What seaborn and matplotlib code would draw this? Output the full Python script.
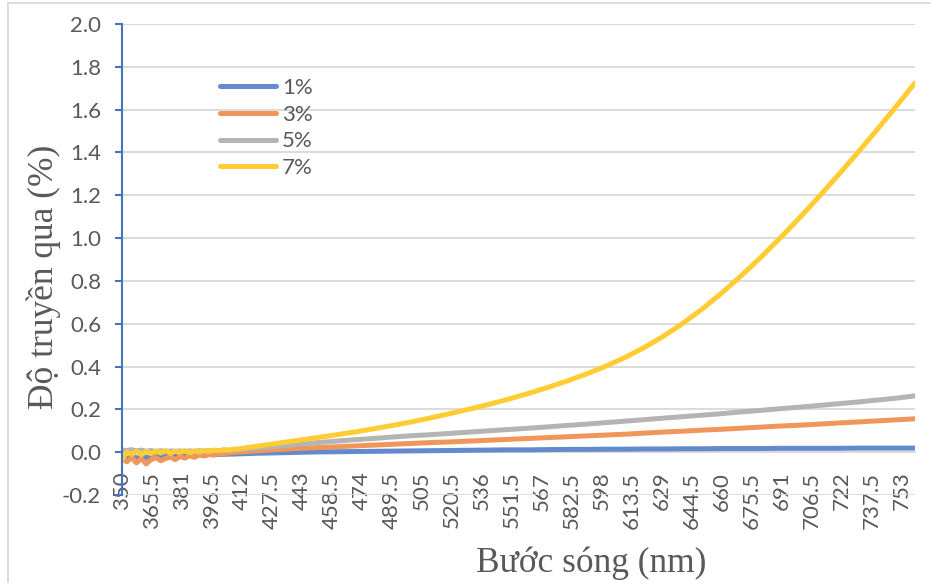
import matplotlib
matplotlib.use("Agg")
import matplotlib.pyplot as plt
from matplotlib.lines import Line2D
import pandas as pd
import seaborn as sns

# Wavelength samples (nm): dense in the noisy UV edge, then every 10 nm
wavelength = [350, 352.5, 355, 357.5, 360, 362.5, 365, 367.5, 370, 372.5,
              375, 377.5, 380, 382.5, 385, 387.5, 390, 392.5, 395, 397.5,
              400, 402.5, 405, 407.5,
              410, 420, 430, 440, 450, 460, 470, 480, 490, 500,
              510, 520, 530, 540, 550, 560, 570, 580, 590, 600,
              610, 620, 630, 640, 650, 660, 670, 680, 690, 700,
              710, 720, 730, 740, 750, 760]

# Transmittance (%) for each concentration
t_1 = [-0.020, -0.030, -0.018, -0.028, -0.020, -0.025, -0.018, -0.022, -0.016, -0.020,
       -0.015, -0.018, -0.014, -0.016, -0.013, -0.014, -0.012, -0.012, -0.011, -0.011,
       -0.010, -0.010, -0.009, -0.009,
       -0.008, -0.005, -0.003, -0.001, 0.001, 0.002, 0.003, 0.004, 0.005, 0.006,
       0.007, 0.008, 0.009, 0.010, 0.011, 0.011, 0.012, 0.013, 0.013, 0.014,
       0.014, 0.015, 0.015, 0.016, 0.016, 0.017, 0.017, 0.017, 0.018, 0.018,
       0.018, 0.018, 0.019, 0.019, 0.019, 0.019]
t_3 = [-0.030, -0.045, -0.025, -0.050, -0.030, -0.055, -0.035, -0.025, -0.040, -0.030,
       -0.022, -0.035, -0.020, -0.028, -0.016, -0.024, -0.012, -0.018, -0.010, -0.014,
       -0.006, -0.008, -0.003, -0.002,
       0.000, 0.006, 0.012, 0.017, 0.021, 0.025, 0.029, 0.033, 0.037, 0.041,
       0.045, 0.048, 0.052, 0.056, 0.060, 0.064, 0.068, 0.072, 0.076, 0.080,
       0.084, 0.089, 0.094, 0.098, 0.103, 0.107, 0.112, 0.117, 0.122, 0.126,
       0.131, 0.136, 0.141, 0.146, 0.151, 0.156]
t_5 = [0.010, 0.008, 0.012, 0.006, 0.010, 0.004, 0.008, 0.003, 0.007, 0.002,
       0.006, 0.004, 0.006, 0.003, 0.006, 0.004, 0.007, 0.005, 0.007, 0.006,
       0.008, 0.008, 0.009, 0.010,
       0.012, 0.020, 0.028, 0.036, 0.044, 0.051, 0.058, 0.064, 0.071, 0.077,
       0.082, 0.088, 0.094, 0.100, 0.106, 0.112, 0.118, 0.125, 0.131, 0.138,
       0.145, 0.152, 0.159, 0.166, 0.173, 0.180, 0.188, 0.195, 0.203, 0.210,
       0.218, 0.226, 0.234, 0.243, 0.252, 0.263]
t_7 = [-0.035, 0.000, -0.010, 0.005, -0.012, 0.004, -0.008, 0.006, -0.004, 0.008,
       -0.006, 0.005, -0.002, 0.007, -0.003, 0.006, 0.000, 0.008, 0.003, 0.010,
       0.006, 0.012, 0.010, 0.014,
       0.015, 0.028, 0.041, 0.054, 0.067, 0.080, 0.094, 0.109, 0.125, 0.142,
       0.161, 0.181, 0.202, 0.224, 0.248, 0.274, 0.302, 0.332, 0.365, 0.401,
       0.442, 0.489, 0.542, 0.602, 0.669, 0.743, 0.823, 0.908, 0.998, 1.092,
       1.190, 1.291, 1.395, 1.502, 1.612, 1.725]

series_names = ["1%", "3%", "5%", "7%"]
series_colors = ["#628ACC", "#F0965A", "#B4B4B4", "#FFCC33"]

x_ticks = [350, 365.5, 381, 396.5, 412, 427.5, 443, 458.5, 474, 489.5,
           505, 520.5, 536, 551.5, 567, 582.5, 598, 613.5, 629, 644.5,
           660, 675.5, 691, 706.5, 722, 737.5, 753]
y_ticks = [-0.2, 0.0, 0.2, 0.4, 0.6, 0.8, 1.0, 1.2, 1.4, 1.6, 1.8, 2.0]

frames = []
for name, vals in zip(series_names, [t_1, t_3, t_5, t_7]):
    frames.append(pd.DataFrame({"wl": wavelength, "T": vals, "conc": name}))
df = pd.concat(frames, ignore_index=True)

sns.set_style("white")
plt.rcParams["font.family"] = ["Lato", "DejaVu Sans"]

text_gray = "#595959"
grid_gray = "#D9D9D9"
axis_blue = "#4472C4"
tick_size = 16

fig = plt.figure(figsize=(9.31, 5.83), dpi=100)
ax = fig.add_axes([122 / 931, 1 - 495 / 583, (915 - 122) / 931, (495 - 24) / 583])

# axis lines first (moving a spine rebuilds the ticks)
for side in ["top", "right"]:
    ax.spines[side].set_visible(False)
ax.spines["left"].set_color(axis_blue)
ax.spines["left"].set_linewidth(1.5)
ax.spines["bottom"].set_position(("data", 0))
ax.spines["bottom"].set_color(grid_gray)
ax.spines["bottom"].set_linewidth(1.3)
ax.spines["bottom"].set_zorder(0.5)

sns.lineplot(data=df, x="wl", y="T", hue="conc", hue_order=series_names,
             palette=series_colors, estimator=None, sort=False,
             linewidth=3.6, ax=ax, legend=False)
for ln in ax.get_lines():
    ln.set_solid_capstyle("round")
    ln.set_solid_joinstyle("round")

ax.set_xlim(350, 760)
ax.set_ylim(-0.2, 2.0)
ax.set_yticks(y_ticks)
ax.set_yticklabels([f"{v:.1f}" for v in y_ticks])
ax.set_xticks(x_ticks)
ax.set_xticklabels([f"{v:g}" for v in x_ticks])

ax.yaxis.grid(True, color=grid_gray, linewidth=1.3)
ax.xaxis.grid(False)
ax.set_axisbelow(True)

ax.tick_params(axis="y", direction="out", length=5, width=1.5, color=axis_blue,
               labelsize=tick_size, labelcolor=text_gray, pad=10, left=True)
ax.tick_params(axis="x", length=0, labelsize=tick_size, labelcolor=text_gray,
               pad=14, labelrotation=90)

ax.set_xlabel("")
ax.set_ylabel("")

serif = ["Liberation Serif", "DejaVu Serif"]
fig.text(591 / 931, 1 - 572 / 583, "Bước sóng (nm)", family=serif, fontsize=25.5,
         color=text_gray, ha="center", va="baseline")
fig.text(44 / 931, 1 - 277 / 583, "Độ truyền qua (%)", family=serif, fontsize=25.5,
         color=text_gray, ha="center", va="center", rotation=90)

handles = [Line2D([0], [0], color=c, linewidth=3.6, solid_capstyle="round")
           for c in series_colors]
leg = fig.legend(handles, series_names, loc="upper left",
                 bbox_to_anchor=(220 / 931, 1 - 78 / 583), frameon=False,
                 fontsize=tick_size, handlelength=2.5, handletextpad=0.28,
                 labelspacing=0.3, borderpad=0, borderaxespad=0)
for t in leg.get_texts():
    t.set_color(text_gray)

# chart-area frame
fig.add_artist(Line2D([8 / 931, 8 / 931], [0, 1 - 3 / 583], color=grid_gray,
                      linewidth=1.3, transform=fig.transFigure))
fig.add_artist(Line2D([8 / 931, 1], [1 - 3 / 583, 1 - 3 / 583], color=grid_gray,
                      linewidth=1.3, transform=fig.transFigure))

fig.savefig("out.png", dpi=100)
